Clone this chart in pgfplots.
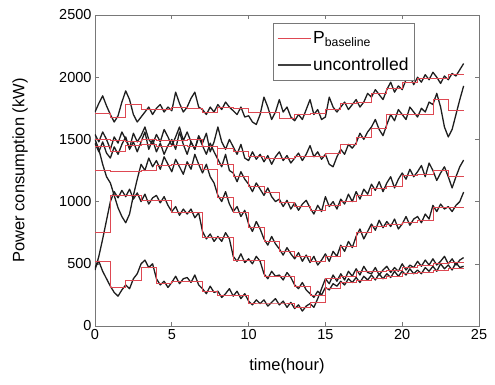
\documentclass[border=0pt]{standalone}
\usepackage{pgfplots}
\pgfplotsset{compat=1.18}
\usepackage{pgfplotstable}
\usepackage{fontspec}
\setmainfont{Liberation Sans}
\definecolor{basered}{RGB}{222,72,82}
\definecolor{axgray}{RGB}{120,120,120}
\definecolor{blk}{RGB}{30,30,30}

\pgfplotstableread{
t b1 b2 b3 b4 b5 b6
0 1720 1540 1470 1500 450 470
0.25 1790 1480 1400 1420 560 520
0.5 1850 1560 1480 1300 700 440
0.75 1770 1500 1390 1200 850 380
1 1700 1420 1350 1150 1000 320
1.25 1640 1520 1440 1050 1080 270
1.5 1690 1470 1380 950 1030 240
1.75 1800 1560 1460 880 1090 290
2 1890 1500 1520 830 1040 330
2.25 1820 1430 1420 900 1100 300
2.5 1700 1550 1480 1050 1020 380
2.75 1640 1480 1400 1180 1070 420
3 1680 1530 1480 1300 1000 500
3.25 1720 1600 1560 1250 1060 530
3.5 1760 1500 1420 1350 980 470
3.75 1700 1460 1500 1280 1030 500
4 1750 1540 1400 1330 1050 380
4.25 1780 1480 1470 1260 990 330
4.5 1720 1580 1380 1360 1040 360
4.75 1760 1520 1450 1300 970 310
5 1730 1450 1500 1240 920 350
5.25 1880 1520 1420 1340 960 400
5.5 1790 1600 1560 1280 890 340
5.75 1720 1490 1460 1220 940 380
6 1760 1560 1380 1320 900 390
6.25 1830 1480 1480 1260 940 350
6.5 1880 1420 1420 1380 870 410
6.75 1760 1530 1520 1300 910 330
7 1740 1470 1450 1230 760 300
7.25 1700 1550 1380 1300 700 260
7.5 1760 1400 1470 1200 740 320
7.75 1720 1480 1400 1150 680 270
8 1780 1600 1340 1050 720 280
8.25 1740 1480 1280 1000 680 230
8.5 1800 1420 1380 1080 750 260
8.75 1760 1500 1250 980 700 300
9 1730 1440 1230 920 560 240
9.25 1700 1380 1160 960 520 280
9.5 1760 1460 1240 880 580 220
9.75 1680 1350 1180 930 510 260
10 1690 1330 1140 820 540 200
10.25 1640 1400 1080 760 500 170
10.5 1620 1340 1150 840 560 210
10.75 1700 1380 1100 780 520 180
11 1840 1320 1050 700 420 210
11.25 1760 1370 1110 650 380 160
11.5 1660 1300 1040 720 440 190
11.75 1720 1360 1000 660 400 220
12 1820 1400 1020 620 410 170
12.25 1720 1330 960 570 370 200
12.5 1760 1370 1010 630 430 150
12.75 1680 1310 940 580 390 190
13 1650 1350 990 540 330 140
13.25 1700 1390 930 590 300 170
13.5 1660 1330 980 520 350 120
13.75 1740 1380 1010 570 290 160
14 1820 1450 950 510 260 180
14.25 1700 1360 900 560 230 150
14.5 1740 1400 970 490 280 220
14.75 1660 1340 920 530 250 300
15 1680 1380 1040 580 310 380
15.25 1840 1300 960 520 290 340
15.5 1760 1280 1000 600 340 410
15.75 1720 1360 940 560 320 360
16 1760 1420 1020 650 360 420
16.25 1800 1380 980 600 330 370
16.5 1740 1460 1060 680 380 440
16.75 1780 1430 1000 630 350 400
17 1820 1470 1080 720 390 460
17.25 1760 1550 1020 780 350 410
17.5 1800 1500 1100 700 400 480
17.75 1870 1560 1060 760 370 430
18 1840 1600 1140 820 410 420
18.25 1900 1660 1090 770 370 470
18.5 1860 1580 1160 850 420 410
18.75 1820 1530 1080 790 380 450
19 1900 1620 1150 840 420 480
19.25 1960 1700 1200 800 390 430
19.5 1880 1650 1110 860 440 470
19.75 1930 1740 1180 780 400 440
20 1900 1700 1230 820 440 500
20.25 1980 1660 1180 880 410 450
20.5 2010 1760 1260 810 460 490
20.75 1940 1720 1200 860 420 470
21 2000 1680 1240 880 450 520
21.25 1960 1750 1290 830 420 480
21.5 2020 1720 1200 900 470 530
21.75 1980 1800 1310 860 440 490
22 2040 1780 1250 970 480 540
22.25 2000 1870 1170 920 440 490
22.5 1950 1760 1230 980 500 520
22.75 2010 1600 1280 940 460 560
23 1980 1520 1200 960 490 500
23.25 2030 1580 1110 920 450 540
23.5 2010 1700 1200 970 510 490
23.75 2060 1820 1280 1000 470 530
24 2110 1930 1334 1077 480 550
}\uncontrolled

\pgfplotstableread{
t r1 r2 r3 r4 r5 r6
0 1710 1500 1440 1250 756 520
1 1680 1490 1400 1240 1050 314
2 1780 1480 1450 1240 1050 370
3 1740 1500 1460 1250 1010 475
4 1740 1490 1440 1290 1010 340
5 1760 1490 1450 1300 910 360
6 1750 1500 1440 1300 910 360
7 1720 1440 1440 1260 710 280
8 1760 1430 1300 1030 710 250
9 1750 1400 1200 910 530 250
10 1720 1360 1120 790 530 185
11 1720 1350 1070 680 400 185
12 1670 1350 990 600 400 185
13 1700 1360 960 560 320 150
14 1710 1360 930 520 250 190
15 1740 1390 970 560 300 380
16 1790 1460 1000 640 350 400
17 1800 1520 1050 750 370 440
18 1870 1590 1110 800 380 440
19 1910 1700 1120 820 400 450
20 1960 1700 1210 830 420 470
21 1990 1700 1220 850 430 490
22 1990 1820 1250 950 450 506
23 2020 1730 1206 950 466 514
24 2020 1730 1206 950 466 514
}\baseline

\begin{document}
\begin{tikzpicture}
\begin{axis}[
  name=ax,
  width=384pt, height=311pt, scale only axis,
  xmin=0, xmax=25, ymin=0, ymax=2500,
  xtick={0,5,10,15,20,25}, ytick={0,500,1000,1500,2000,2500},
  tick align=inside, tick pos=both,
  major tick length=4pt,
  axis line style={axgray, line width=0.8pt},
  tick style={axgray, line width=0.6pt},
  /pgf/number format/assume math mode=true,
  /pgf/number format/1000 sep={},
  ticklabel style={font=\fontsize{14.5}{17}\selectfont},
  xlabel={time(hour)}, ylabel={Power consumption (kW)},
  label style={font=\fontsize{16.5}{19}\selectfont},
  xlabel style={at={(axis description cs:0.5,-0.129)}, anchor=center},
  ylabel style={at={(axis description cs:-0.195,0.5)}, anchor=center},
  legend style={at={(0.833,0.974)}, anchor=north east, draw=axgray,
    line width=0.6pt, font=\fontsize{17.5}{20}\selectfont,
    legend cell align=left, inner xsep=4pt, inner ysep=6pt, row sep=9pt},
  legend image code/.code={\draw[#1] (0pt,0pt) -- (33pt,0pt);},
]
\addlegendimage{draw=basered, color=basered, line width=0.9pt}
\addlegendentry{P\textsubscript{baseline}}
\addlegendimage{draw=blk!85, color=blk!85, line width=1.2pt}
\addlegendentry{uncontrolled}
\foreach \c in {b1,b2,b3,b4,b5,b6}{
  \addplot[blk, line width=1.3pt, line join=round, forget plot] table[x=t, y=\c] {\uncontrolled};
}
\foreach \c in {r1,r2,r3,r4,r5,r6}{
  \addplot[basered, line width=0.8pt, const plot, forget plot] table[x=t, y=\c] {\baseline};
}
\end{axis}
\path (ax.south west) ++(-95pt,-58pt) rectangle ++(495pt,384pt);
\end{tikzpicture}
\end{document}
